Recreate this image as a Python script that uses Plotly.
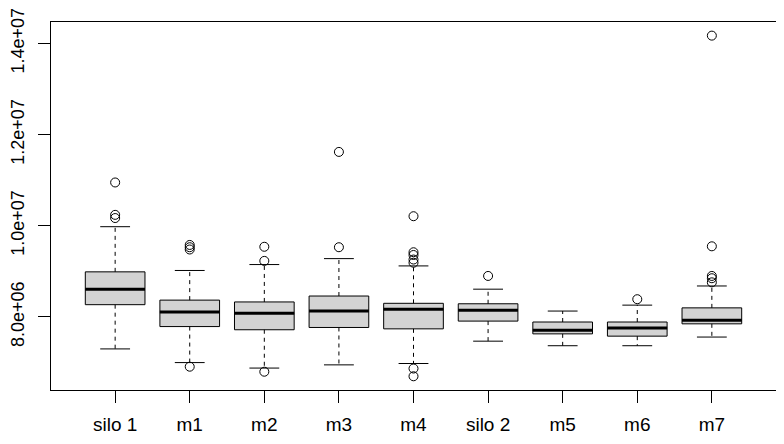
import plotly.graph_objects as go

# group names and box statistics
groups = ["silo 1", "m1", "m2", "m3", "m4", "silo 2", "m5", "m6", "m7"]
lower_whisker = [7.30e6, 7.00e6, 6.88e6, 6.95e6, 6.98e6, 7.47e6, 7.37e6, 7.37e6, 7.56e6]
q1 = [8.27e6, 7.79e6, 7.72e6, 7.77e6, 7.74e6, 7.91e6, 7.63e6, 7.58e6, 7.85e6]
median = [8.61e6, 8.11e6, 8.08e6, 8.13e6, 8.17e6, 8.15e6, 7.71e6, 7.76e6, 7.93e6]
q3 = [8.99e6, 8.37e6, 8.33e6, 8.46e6, 8.30e6, 8.29e6, 7.89e6, 7.89e6, 8.20e6]
upper_whisker = [9.98e6, 9.02e6, 9.15e6, 9.28e6, 9.12e6, 8.61e6, 8.13e6, 8.26e6, 8.68e6]
outliers = [
    [10.95e6, 10.24e6, 10.17e6],
    [9.58e6, 9.53e6, 9.48e6, 6.91e6],
    [9.54e6, 9.23e6, 6.80e6],
    [11.62e6, 9.53e6],
    [10.21e6, 9.42e6, 9.36e6, 9.26e6, 9.19e6, 6.87e6, 6.70e6],
    [8.90e6],
    [],
    [8.39e6],
    [14.17e6, 9.55e6, 8.90e6, 8.85e6, 8.76e6],
]

ytick_vals = [8.0e6, 1.0e7, 1.2e7, 1.4e7]
ytick_text = ["8.0e+06", "1.0e+07", "1.2e+07", "1.4e+07"]

pos = list(range(1, len(groups) + 1))
half_box = 0.4
half_cap = 0.2

fig = go.Figure()

# boxes (whiskers drawn separately so they can be dashed like R)
fig.add_trace(go.Box(
    x=pos, q1=q1, median=median, q3=q3,
    lowerfence=q1, upperfence=q3,
    width=2 * half_box, whiskerwidth=0,
    fillcolor="#D3D3D3",
    line=dict(color="black", width=1),
    hoverinfo="skip",
    showlegend=False,
))

# dashed whiskers
wx, wy = [], []
for p, lo, a, b, hi in zip(pos, lower_whisker, q1, q3, upper_whisker):
    wx += [p, p, None, p, p, None]
    wy += [b, hi, None, a, lo, None]
fig.add_trace(go.Scatter(x=wx, y=wy, mode="lines",
                         line=dict(color="black", width=1, dash="4px,4px"),
                         hoverinfo="skip", showlegend=False))

# whisker caps
cx, cy = [], []
for p, lo, hi in zip(pos, lower_whisker, upper_whisker):
    cx += [p - half_cap, p + half_cap, None, p - half_cap, p + half_cap, None]
    cy += [hi, hi, None, lo, lo, None]
fig.add_trace(go.Scatter(x=cx, y=cy, mode="lines",
                         line=dict(color="black", width=1),
                         hoverinfo="skip", showlegend=False))

# thick medians
mx, my = [], []
for p, m in zip(pos, median):
    mx += [p - half_box, p + half_box, None]
    my += [m, m, None]
fig.add_trace(go.Scatter(x=mx, y=my, mode="lines",
                         line=dict(color="black", width=3),
                         hoverinfo="skip", showlegend=False))

# outliers
ox, oy = [], []
for p, vals in zip(pos, outliers):
    for v in vals:
        ox.append(p)
        oy.append(v)
fig.add_trace(go.Scatter(x=ox, y=oy, mode="markers",
                         marker=dict(symbol="circle-open", size=9, color="black",
                                     line=dict(width=1)),
                         hoverinfo="skip", showlegend=False))

axis_font = dict(family="Liberation Sans, Arial, sans-serif", size=19, color="black")
yaxis_font = dict(family="Liberation Sans, Arial, sans-serif", size=18, color="black")

# the page body adds an 8px margin, so the figure is sized to sit inside it
fig.update_layout(
    width=776, height=436,
    margin=dict(l=43, r=8, t=14, b=54, autoexpand=False),
    paper_bgcolor="white", plot_bgcolor="white",
    boxmode="overlay",
    showlegend=False,
    font=axis_font,
    xaxis=dict(
        range=[0.14, 9.86], automargin=False,
        tickmode="array", tickvals=pos, ticktext=groups,
        ticks="outside", ticklen=12, tickcolor="black", tickwidth=1,
        showgrid=False, zeroline=False,
        showline=True, linecolor="black", linewidth=1, mirror=True,
        tickfont=axis_font, ticklabelstandoff=5,
    ),
    yaxis=dict(
        range=[6.399e6, 14.469e6], automargin=False,
        tickmode="array", tickvals=ytick_vals, ticktext=ytick_text,
        tickangle=-90, ticklabeloverflow="allow",
        ticks="outside", ticklen=12, tickcolor="black", tickwidth=1,
        showgrid=False, zeroline=False,
        showline=True, linecolor="black", linewidth=1, mirror=True,
        tickfont=yaxis_font, ticklabelstandoff=7,
    ),
)

fig.write_html("out.html")
